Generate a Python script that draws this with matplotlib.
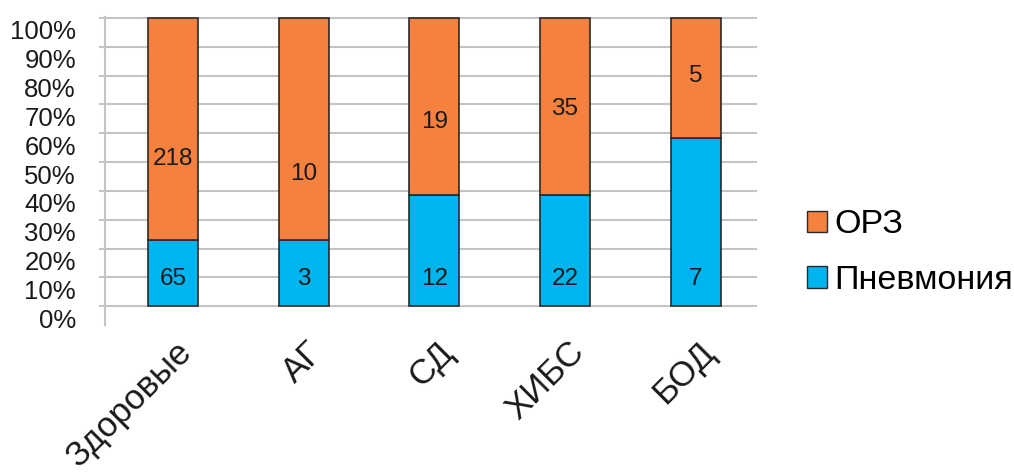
import matplotlib
matplotlib.use("Agg")
import matplotlib.pyplot as plt
import matplotlib.transforms as mtransforms
from matplotlib.patches import Patch
import numpy as np

categories = ["Здоровые", "АГ", "СД", "ХИБС", "БОД"]
pneumonia = [65, 3, 12, 22, 7]
orz = [218, 10, 19, 35, 5]
series_names = ["ОРЗ", "Пневмония"]
ytick_values = list(range(0, 101, 10))
ytick_labels = [f"{v}%" for v in ytick_values]

# label layout (percent positions where the numbers sit inside bars)
pn_label_y = [9.3, 9.3, 9.3, 9.3, 9.3]
orz_label_y = [51, 46, 64, 68.5, 80]

plt.rcParams['font.family'] = ['Liberation Sans', 'DejaVu Sans']

fig = plt.figure(figsize=(10.14, 4.73), dpi=100)
ax = fig.add_axes([0.1036, 0.313, 0.7465 - 0.1036, 0.964 - 0.313])

blue = "#00B4EE"
orange = "#F5813F"
edge = "#2a2a2a"

pn = np.array(pneumonia, float)
oz = np.array(orz, float)
tot = pn + oz
pn_pct = pn / tot * 100
oz_pct = oz / tot * 100
x = np.arange(len(categories))
w = 0.383

ax.bar(x, pn_pct, width=w, color=blue, edgecolor=edge, linewidth=1.2, zorder=3)
ax.bar(x, oz_pct, bottom=pn_pct, width=w, color=orange, edgecolor=edge, linewidth=1.2, zorder=3)

for i in range(len(categories)):
    ax.text(x[i], pn_label_y[i], str(pneumonia[i]), ha='center', va='center', fontsize=17.5, color='#1a1a1a', zorder=4)
    ax.text(x[i], orz_label_y[i], str(orz[i]), ha='center', va='center', fontsize=17.5, color='#1a1a1a', zorder=4)

ax.set_xlim(-0.52, 4.47)
ax.set_ylim(-6.5, 100.3)
ax.set_yticks(ytick_values)
ax.set_yticklabels(ytick_labels, fontsize=18.5, color='#1a1a1a')
ax.yaxis.grid(True, color='#c4c4c4', linewidth=1.5, zorder=0)
ax.tick_params(axis='y', length=4, width=1.5, color='#c4c4c4', pad=17)
offset = mtransforms.ScaledTranslation(0, -0.12, fig.dpi_scale_trans)
for lbl in ax.get_yticklabels():
    lbl.set_transform(lbl.get_transform() + offset)

ax.set_xticks(x)
ax.set_xticklabels(categories, rotation=45, ha='right', va='center', rotation_mode='anchor', fontsize=25, color='#1a1a1a')
ax.tick_params(axis='x', length=0, pad=16)
xoff = mtransforms.ScaledTranslation(0.14, 0, fig.dpi_scale_trans)
for lbl in ax.get_xticklabels():
    lbl.set_transform(lbl.get_transform() + xoff)

for s in ['top', 'right', 'bottom']:
    ax.spines[s].set_visible(False)
ax.spines['left'].set_color('#c4c4c4')
ax.spines['left'].set_linewidth(1.5)
ax.set_axisbelow(True)

handles = [Patch(facecolor=orange, edgecolor=edge, linewidth=1.0),
           Patch(facecolor=blue, edgecolor=edge, linewidth=1.0)]
leg = fig.legend(handles, series_names, loc='center left', bbox_to_anchor=(0.796, 0.466),
                 frameon=False, fontsize=24.5, handlelength=0.59, handleheight=0.59,
                 handletextpad=0.2, labelspacing=0.72, borderpad=0, borderaxespad=0)

fig.savefig("out.png", dpi=100)
